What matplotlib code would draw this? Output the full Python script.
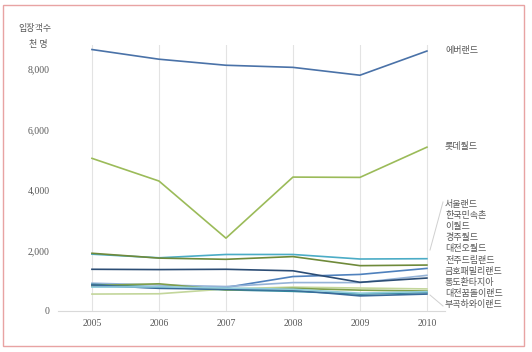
import matplotlib
matplotlib.use("Agg")
import matplotlib.pyplot as plt
from matplotlib.patches import Rectangle
from matplotlib.lines import Line2D

plt.rcParams['font.family'] = ['Noto Sans CJK KR', 'DejaVu Sans']

years = ['2005', '2006', '2007', '2008', '2009', '2010']
parks = ['에버랜드', '롯데월드', '서울랜드', '한국민속촌', '이월드', '경주월드',
         '대전오월드', '전주드림랜드', '금호패밀리랜드', '통도환타지아',
         '대전꿈돌이랜드', '부곡하와이랜드']
everland = [8650, 8330, 8130, 8060, 7800, 8600]
lotteworld = [5050, 4300, 2410, 4430, 4420, 5420]
seoulland = [1880, 1760, 1870, 1870, 1720, 1730]
folkvillage = [1910, 1750, 1710, 1800, 1500, 1520]
eworld = [820, 770, 780, 1140, 1210, 1410]
gyeongjuworld = [920, 860, 810, 940, 940, 1180]
oworld = [1380, 1370, 1380, 1330, 950, 1090]
dreamland = [560, 570, 730, 790, 760, 730]
kumho = [880, 790, 700, 650, 560, 610]
tongdo = [840, 900, 700, 750, 690, 660]
kkumdori = [860, 750, 720, 690, 500, 560]
bugok = [790, 800, 760, 720, 590, 640]
yticks = [0, 2000, 4000, 6000, 8000]

series = [everland, lotteworld, seoulland, folkvillage, eworld, gyeongjuworld,
          oworld, dreamland, kumho, tongdo, kkumdori, bugok]
colors = ['#4a72a8', '#9bbb59', '#4bacc6', '#6f8a3a', '#4f81bd', '#95b3d7',
          '#2c4d75', '#c3d69b', '#31859c', '#7f9f4a', '#3a6a9a', '#92cddc']

W, H = 532, 352
fig = plt.figure(figsize=(W / 100, H / 100), dpi=100)

# outer border
fig.patches.append(Rectangle((3 / W, 6 / H), 521 / W, 341 / H, transform=fig.transFigure,
                             fill=False, edgecolor='#e8a3a3', linewidth=1.0))

ax_l, ax_r, ax_t, ax_b = 58, 445, 45, 311
ax = fig.add_axes([ax_l / W, (H - ax_b) / H, (ax_r - ax_l) / W, (ax_b - ax_t) / H])
x = list(range(len(years)))
ax.set_xlim(-0.507, 5.27)
ax.set_ylim(0, 8800)

for xi in x:
    ax.axvline(xi, color='#e3e3e3', lw=0.8, zorder=0)

for vals, c in zip(series, colors):
    ax.plot(x, vals, color=c, lw=1.2, zorder=2)

for s in ['top', 'right', 'left']:
    ax.spines[s].set_visible(False)
ax.spines['bottom'].set_color('#d9d9d9')
ax.spines['bottom'].set_linewidth(0.8)
ax.set_xticks(x)
ax.set_xticklabels(years)
ax.set_yticks(yticks)
ax.set_yticklabels([f'{v:,}' for v in yticks])
ax.tick_params(length=0, colors='#595959', pad=6)
for lab in ax.get_xticklabels() + ax.get_yticklabels():
    lab.set_fontfamily('Liberation Serif')
    lab.set_fontsize(7)

# y axis title
fig.text(35 / W, 1 - 29 / H, '입장객수', ha='center', va='center', fontsize=6.5, color='#595959')
fig.text(38 / W, 1 - 44 / H, '천 명', ha='center', va='center', fontsize=6.5, color='#595959')

# right labels
lab_x = 445 / W
fig.text(lab_x, 1 - 51 / H, parks[0], ha='left', va='center', fontsize=6.5, color='#595959')
fig.text(lab_x, 1 - 146 / H, parks[1], ha='left', va='center', fontsize=6.5, color='#595959')
y0, dy = 204, 11.2
for i, name in enumerate(parks[2:]):
    fig.text(lab_x, 1 - (y0 + i * dy) / H, name, ha='left', va='center',
             fontsize=6.5, color='#595959')

# leader lines
fig.add_artist(Line2D([443 / W, 430 / W], [1 - 202 / H, 1 - 250 / H],
                      transform=fig.transFigure, color='#d0d0d0', lw=0.7))
fig.add_artist(Line2D([443 / W, 430 / W], [1 - 306 / H, 1 - 295 / H],
                      transform=fig.transFigure, color='#d0d0d0', lw=0.7))

fig.savefig('out.png', dpi=100)
